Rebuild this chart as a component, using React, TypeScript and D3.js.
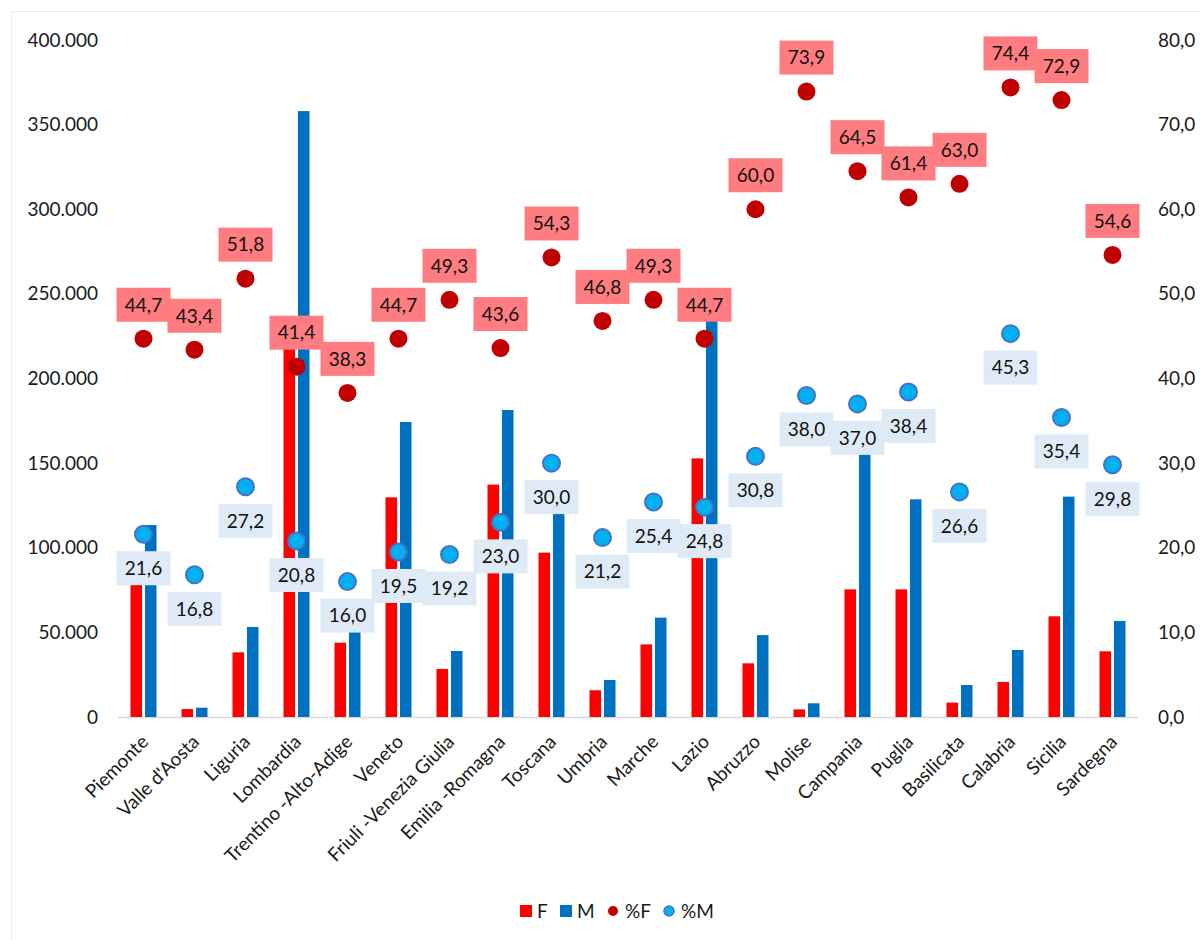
import { useRef, useEffect, RefObject } from 'react';
import * as d3 from 'd3';

const regions: string[] = [
  'Piemonte', "Valle d'Aosta", 'Liguria', 'Lombardia', 'Trentino -Alto-Adige', 'Veneto',
  'Friuli -Venezia Giulia', 'Emilia -Romagna', 'Toscana', 'Umbria', 'Marche', 'Lazio',
  'Abruzzo', 'Molise', 'Campania', 'Puglia', 'Basilicata', 'Calabria', 'Sicilia', 'Sardegna',
];

// absolute values (left axis)
const valuesF: number[] = [
  80000, 4700, 38200, 222000, 43900, 129800, 28400, 137300, 97100, 15800,
  42900, 152800, 31700, 4500, 75400, 75400, 8500, 20700, 59500, 38800,
];
const valuesM: number[] = [
  113400, 5500, 53200, 358000, 51000, 174300, 39000, 181400, 121500, 21900,
  58700, 235000, 48400, 8100, 157000, 128600, 18900, 39600, 130200, 56700,
];

// percentages (right axis)
const pctF: number[] = [
  44.7, 43.4, 51.8, 41.4, 38.3, 44.7, 49.3, 43.6, 54.3, 46.8,
  49.3, 44.7, 60.0, 73.9, 64.5, 61.4, 63.0, 74.4, 72.9, 54.6,
];
const pctM: number[] = [
  21.6, 16.8, 27.2, 20.8, 16.0, 19.5, 19.2, 23.0, 30.0, 21.2,
  25.4, 24.8, 30.8, 38.0, 37.0, 38.4, 26.6, 45.3, 35.4, 29.8,
];

const leftTicks: number[] = [0, 50000, 100000, 150000, 200000, 250000, 300000, 350000, 400000];
const rightTicks: number[] = [0, 10, 20, 30, 40, 50, 60, 70, 80];

const FONT = 'Lato, "Open Sans", sans-serif';

const App = () => {
  const svgRef: RefObject<SVGSVGElement> = useRef(null);

  useEffect(() => {
    const width = 1200;
    const height = 940;
    const plotTop = 40;
    const plotBottom = 717;
    const plotLeft = 118;
    const plotRight = 1138;

    const it = d3.formatLocale({ decimal: ',', thousands: '.', grouping: [3], currency: ['', '€'] });
    const fmtInt = it.format(',.0f');
    const fmtPct = it.format('.1f');

    const svg = d3.select(svgRef.current);
    svg.selectAll('*').remove();
    svg
      .attr('width', width)
      .attr('height', height)
      .attr('style', `position:absolute;left:0;top:0;background:#fff;font-family:${FONT};`);

    // chart frame
    svg.append('rect')
      .attr('x', 11.5).attr('y', 11.5)
      .attr('width', 1200).attr('height', 1000)
      .attr('fill', '#fff')
      .attr('stroke', '#ececec');

    const x = d3.scaleBand().domain(regions).range([plotLeft, plotRight]);
    const sub = d3.scaleBand().domain(['F', 'M']).range([-13, 13]).paddingInner(0.2);
    const y = d3.scaleLinear().domain([0, 400000]).range([plotBottom, plotTop]);
    const y2 = d3.scaleLinear().domain([0, 80]).range([plotBottom, plotTop]);
    const cx = (r: string) => (x(r) as number) + x.bandwidth() / 2;

    // left axis
    const gL = svg.append('g')
      .attr('transform', 'translate(98,0)')
      .call(d3.axisLeft(y).tickValues(leftTicks).tickSize(0).tickPadding(0).tickFormat((d) => fmtInt(d as number)));
    gL.select('.domain').remove();
    gL.selectAll('text').attr('font-size', 19).attr('font-family', FONT).attr('fill', '#1a1a1a');

    // right axis
    const gR = svg.append('g')
      .attr('transform', 'translate(1158,0)')
      .call(d3.axisRight(y2).tickValues(rightTicks).tickSize(0).tickPadding(0).tickFormat((d) => fmtPct(d as number)));
    gR.select('.domain').remove();
    gR.selectAll('text').attr('font-size', 19).attr('font-family', FONT).attr('fill', '#1a1a1a');

    // baseline
    svg.append('line')
      .attr('x1', plotLeft).attr('x2', plotRight)
      .attr('y1', plotBottom + 0.5).attr('y2', plotBottom + 0.5)
      .attr('stroke', '#d9d9d9').attr('stroke-width', 1.5);

    // bars
    const bars = svg.append('g');
    bars.selectAll('rect.f')
      .data(regions)
      .join('rect')
      .attr('class', 'f')
      .attr('x', (d) => cx(d) + (sub('F') as number))
      .attr('width', sub.bandwidth())
      .attr('y', (d, i) => y(valuesF[i]))
      .attr('height', (d, i) => plotBottom - y(valuesF[i]))
      .attr('fill', '#ff0000');
    bars.selectAll('rect.m')
      .data(regions)
      .join('rect')
      .attr('class', 'm')
      .attr('x', (d) => cx(d) + (sub('M') as number))
      .attr('width', sub.bandwidth())
      .attr('y', (d, i) => y(valuesM[i]))
      .attr('height', (d, i) => plotBottom - y(valuesM[i]))
      .attr('fill', '#0070c0');

    // category labels
    svg.append('g')
      .selectAll('text')
      .data(regions)
      .join('text')
      .attr('transform', (d) => `translate(${cx(d) + 6},${plotBottom + 26}) rotate(-45)`)
      .attr('text-anchor', 'end')
      .attr('font-size', 19)
      .attr('fill', '#1a1a1a')
      .text((d) => d);

    // dots
    svg.append('g')
      .selectAll('circle')
      .data(regions)
      .join('circle')
      .attr('cx', (d) => cx(d))
      .attr('cy', (d, i) => y2(pctF[i]))
      .attr('r', 9)
      .attr('fill', '#c00000');
    svg.append('g')
      .selectAll('circle')
      .data(regions)
      .join('circle')
      .attr('cx', (d) => cx(d))
      .attr('cy', (d, i) => y2(pctM[i]))
      .attr('r', 8.5)
      .attr('fill', '#00b0f0')
      .attr('stroke', '#4472c4')
      .attr('stroke-width', 2);

    // data labels
    const boxW = 54;
    const boxH = 34;
    const addLabels = (vals: number[], offset: number, bg: string) => {
      const g = svg.append('g')
        .selectAll('g')
        .data(regions)
        .join('g')
        .attr('transform', (d, i) => `translate(${cx(d)},${y2(vals[i]) + offset})`);
      g.append('rect')
        .attr('x', -boxW / 2).attr('y', -boxH / 2)
        .attr('width', boxW).attr('height', boxH)
        .attr('fill', bg);
      g.append('text')
        .attr('text-anchor', 'middle')
        .attr('dy', '0.36em')
        .attr('font-size', 19)
        .attr('fill', '#111')
        .text((d, i) => fmtPct(vals[i]));
    };
    addLabels(pctF, -34, '#ff7c80');
    addLabels(pctM, 34, '#deebf7');

    // legend
    const leg = svg.append('g').attr('font-size', 19).attr('fill', '#1a1a1a');
    const ly = 911;
    leg.append('rect').attr('x', 520).attr('y', ly - 6).attr('width', 12).attr('height', 12).attr('fill', '#ff0000');
    leg.append('text').attr('x', 537).attr('y', ly).attr('dy', '0.35em').text('F');
    leg.append('rect').attr('x', 560).attr('y', ly - 6).attr('width', 12).attr('height', 12).attr('fill', '#0070c0');
    leg.append('text').attr('x', 577).attr('y', ly).attr('dy', '0.35em').text('M');
    leg.append('circle').attr('cx', 613).attr('cy', ly).attr('r', 5).attr('fill', '#c00000');
    leg.append('text').attr('x', 625).attr('y', ly).attr('dy', '0.35em').text('%F');
    leg.append('circle').attr('cx', 669).attr('cy', ly).attr('r', 5).attr('fill', '#00b0f0')
      .attr('stroke', '#4472c4').attr('stroke-width', 1.5);
    leg.append('text').attr('x', 681).attr('y', ly).attr('dy', '0.35em').text('%M');
  }, []);

  return <svg ref={svgRef}></svg>;
};

export default App;
